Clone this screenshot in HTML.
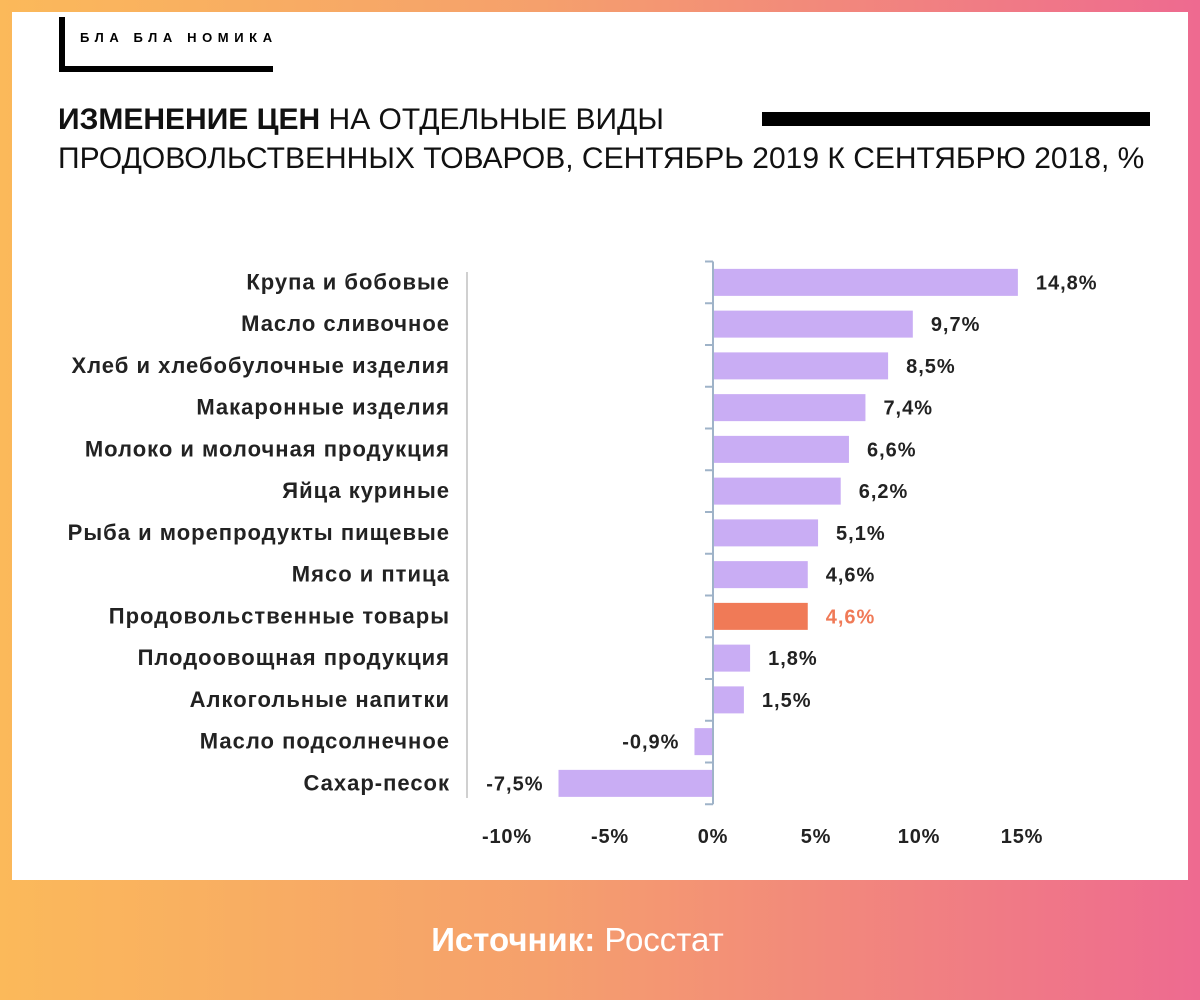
<!DOCTYPE html>
<html><head><meta charset="utf-8"><style>
body{margin:0;width:1200px;height:1000px;overflow:hidden;background:linear-gradient(90deg,#fbb95a 0%,#f5a06c 45%,#ee6a90 100%);font-family:"Liberation Sans","DejaVu Sans",sans-serif;position:relative}
#panel{position:absolute;left:12px;top:12px;width:1176px;height:868px;background:#fff}
.t{position:absolute;font-size:30px;color:#111;white-space:nowrap;letter-spacing:0px}
</style></head><body>
<div id="panel"></div>
<div style="position:absolute;left:59px;top:17px;width:220px;height:55px;">
 <div style="position:absolute;left:0;top:0;width:6px;height:55px;background:#000"></div>
 <div style="position:absolute;left:0;top:49px;width:214px;height:6px;background:#000"></div>
 <div style="position:absolute;left:21px;top:13px;font-size:13px;font-weight:bold;letter-spacing:5.6px;color:#000;white-space:nowrap">БЛА БЛА НОМИКА</div>
</div>
<div class="t" style="left:58px;top:103px"><b>ИЗМЕНЕНИЕ ЦЕН</b> НА ОТДЕЛЬНЫЕ ВИДЫ</div>
<div class="t" style="left:58px;top:142px">ПРОДОВОЛЬСТВЕННЫХ ТОВАРОВ, СЕНТЯБРЬ 2019 К СЕНТЯБРЮ 2018, %</div>
<div style="position:absolute;left:762px;top:112px;width:388px;height:14px;background:#000"></div>
<svg id="chart" width="1200" height="1000" style="position:absolute;left:0;top:0"></svg>
<div style="position:absolute;left:0;width:1155px;top:921px;text-align:center;color:#fff;font-size:33px"><b>Источник:</b> Росстат</div>
<script>
const categories=["Крупа и бобовые","Масло сливочное","Хлеб и хлебобулочные изделия","Макаронные изделия","Молоко и молочная продукция","Яйца куриные","Рыба и морепродукты пищевые","Мясо и птица","Продовольственные товары","Плодоовощная продукция","Алкогольные напитки","Масло подсолнечное","Сахар-песок"];
const values=[14.8,9.7,8.5,7.4,6.6,6.2,5.1,4.6,4.6,1.8,1.5,-0.9,-7.5];
const valueLabels=["14,8%","9,7%","8,5%","7,4%","6,6%","6,2%","5,1%","4,6%","4,6%","1,8%","1,5%","-0,9%","-7,5%"];
const highlight=[false,false,false,false,false,false,false,false,true,false,false,false,false];
const ticks=[-10,-5,0,5,10,15];
const tickLabels=["-10%","-5%","0%","5%","10%","15%"];
const NS="http://www.w3.org/2000/svg",svg=document.getElementById('chart');
const x0=713,k=20.6,yTop=261.5,pitch=41.75,bh=27;
const X=v=>x0+v*k, Y=i=>yTop+pitch*(i+0.5);
function mk(t,a){const e=document.createElementNS(NS,t);for(const n in a)e.setAttribute(n,a[n]);svg.appendChild(e);return e;}
let g=mk('line',{x1:467,x2:467,y1:272,y2:798,stroke:'#d0d0d0','stroke-width':2});


categories.forEach((c,i)=>{
 const v=values[i],y=Y(i);
 const r=mk('rect',{x:Math.min(X(0),X(v)),y:y-bh/2,width:Math.abs(X(v)-X(0)),height:bh,fill:highlight[i]?'#f07a57':'#c9adf4'});
 
 
 const l=mk('text',{x:450,y:y+7,'text-anchor':'end','font-size':22,'font-weight':'bold',fill:'#222','letter-spacing':1.0});
 l.textContent=c;
 
 
 const vl=mk('text',{x:v>=0?X(v)+18:X(v)-15,y:y+7,'text-anchor':v>=0?'start':'end','font-size':20,'font-weight':'bold',fill:highlight[i]?'#f07a57':'#222','letter-spacing':1.0});
 vl.textContent=valueLabels[i];
 
 
});
const ax=mk('line',{x1:x0,x2:x0,y1:yTop,y2:yTop+pitch*categories.length,stroke:'#9fb3c8','stroke-width':2});


for(let i=0;i<=categories.length;i++){
 const t=mk('line',{x1:x0-8,x2:x0,y1:yTop+pitch*i,y2:yTop+pitch*i,stroke:'#9fb3c8','stroke-width':2});
 
 
}
ticks.forEach((t,i)=>{
 const e=mk('text',{x:X(t),y:843,'text-anchor':'middle','font-size':20,'font-weight':'bold',fill:'#222','letter-spacing':0.8});
 e.textContent=tickLabels[i];
 
 
});
</script>
</body></html>
